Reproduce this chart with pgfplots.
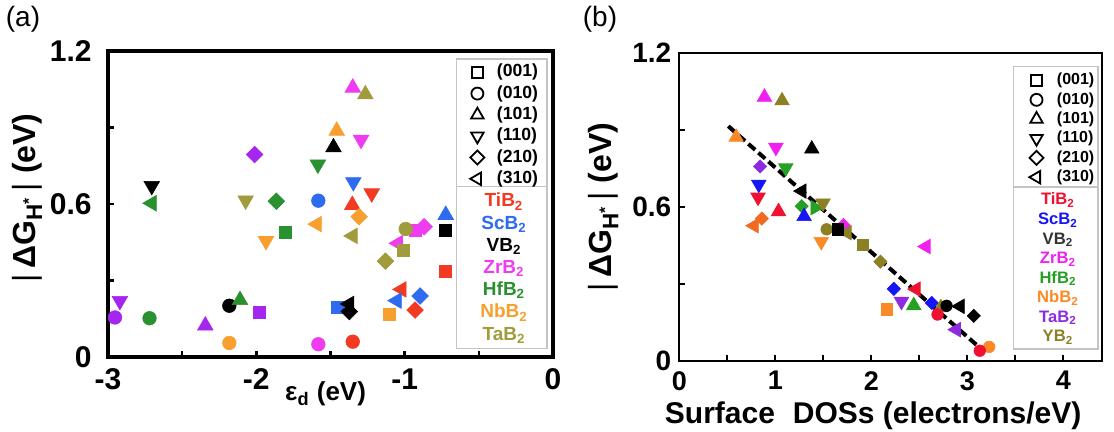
\documentclass[border=0pt]{standalone}
\usepackage{fontspec}
\setmainfont{Liberation Sans}
\usepackage{pgfplots}
\pgfplotsset{compat=1.18}

% ---- plot marks (filled; legend keys reuse them with a white fill) ----
\pgfdeclareplotmark{sqf}{%
  \pgfpathrectangle{\pgfqpoint{-\pgfplotmarksize}{-\pgfplotmarksize}}{\pgfqpoint{2\pgfplotmarksize}{2\pgfplotmarksize}}%
  \pgfusepathqfillstroke}
\pgfdeclareplotmark{utri}{%
  \pgfpathmoveto{\pgfqpoint{0pt}{\pgfplotmarksize}}%
  \pgfpathlineto{\pgfqpoint{0.866\pgfplotmarksize}{-0.5\pgfplotmarksize}}%
  \pgfpathlineto{\pgfqpoint{-0.866\pgfplotmarksize}{-0.5\pgfplotmarksize}}%
  \pgfpathclose\pgfusepathqfillstroke}
\pgfdeclareplotmark{dtri}{%
  \pgfpathmoveto{\pgfqpoint{0pt}{-\pgfplotmarksize}}%
  \pgfpathlineto{\pgfqpoint{0.866\pgfplotmarksize}{0.5\pgfplotmarksize}}%
  \pgfpathlineto{\pgfqpoint{-0.866\pgfplotmarksize}{0.5\pgfplotmarksize}}%
  \pgfpathclose\pgfusepathqfillstroke}
\pgfdeclareplotmark{ltri}{%
  \pgfpathmoveto{\pgfqpoint{-\pgfplotmarksize}{0pt}}%
  \pgfpathlineto{\pgfqpoint{0.5\pgfplotmarksize}{0.866\pgfplotmarksize}}%
  \pgfpathlineto{\pgfqpoint{0.5\pgfplotmarksize}{-0.866\pgfplotmarksize}}%
  \pgfpathclose\pgfusepathqfillstroke}
\pgfdeclareplotmark{rtri}{%
  \pgfpathmoveto{\pgfqpoint{\pgfplotmarksize}{0pt}}%
  \pgfpathlineto{\pgfqpoint{-0.5\pgfplotmarksize}{0.866\pgfplotmarksize}}%
  \pgfpathlineto{\pgfqpoint{-0.5\pgfplotmarksize}{-0.866\pgfplotmarksize}}%
  \pgfpathclose\pgfusepathqfillstroke}
\pgfdeclareplotmark{dia}{%
  \pgfpathmoveto{\pgfqpoint{0pt}{\pgfplotmarksize}}%
  \pgfpathlineto{\pgfqpoint{\pgfplotmarksize}{0pt}}%
  \pgfpathlineto{\pgfqpoint{0pt}{-\pgfplotmarksize}}%
  \pgfpathlineto{\pgfqpoint{-\pgfplotmarksize}{0pt}}%
  \pgfpathclose\pgfusepathqfillstroke}

% ---- colours ----
\definecolor{tiA}{HTML}{F23A22}
\definecolor{scA}{HTML}{2F6BEF}
\definecolor{zrA}{HTML}{F03CF0}
\definecolor{hfA}{HTML}{2A9130}
\definecolor{nbA}{HTML}{F7A030}
\definecolor{taA}{HTML}{A09C3C}
\definecolor{puA}{HTML}{A526EF}
\definecolor{tiB}{HTML}{F01030}
\definecolor{scB}{HTML}{1515F5}
\definecolor{vbB}{HTML}{333333}
\definecolor{zrB}{HTML}{F020F0}
\definecolor{hfB}{HTML}{25A025}
\definecolor{nbB}{HTML}{FA8A28}
\definecolor{nbBr}{HTML}{F06A20}
\definecolor{taB}{HTML}{8E2BE0}
\definecolor{ybB}{HTML}{8C8025}
\definecolor{legline}{HTML}{C4C4C4}

% facet -> marker shape: s=(001) c=(010) u=(101) d=(110) r=(210) l=(310) t=right triangle
\pgfplotsset{
  facetsA/.style={forget plot, only marks, scatter, scatter src=explicit symbolic,
    scatter/classes={
      s={mark=sqf,  mark size=3.0pt,  draw=#1, fill=#1, line width=0.3pt},
      c={mark=*,    mark size=3.4pt,  draw=#1, fill=#1, line width=0.3pt},
      u={mark=utri, mark size=4.5pt,  draw=#1, fill=#1, line width=0.3pt},
      d={mark=dtri, mark size=4.5pt,  draw=#1, fill=#1, line width=0.3pt},
      l={mark=ltri, mark size=4.5pt,  draw=#1, fill=#1, line width=0.3pt},
      t={mark=rtri, mark size=4.5pt,  draw=#1, fill=#1, line width=0.3pt},
      r={mark=dia,  mark size=4.15pt, draw=#1, fill=#1, line width=0.3pt}}},
  facetsB/.style={forget plot, only marks, scatter, scatter src=explicit symbolic,
    scatter/classes={
      s={mark=sqf,  mark size=2.9pt,  draw=#1, fill=#1, line width=0.3pt},
      c={mark=*,    mark size=2.9pt,  draw=#1, fill=#1, line width=0.3pt},
      u={mark=utri, mark size=4.2pt,  draw=#1, fill=#1, line width=0.3pt},
      d={mark=dtri, mark size=4.2pt,  draw=#1, fill=#1, line width=0.3pt},
      l={mark=ltri, mark size=4.2pt,  draw=#1, fill=#1, line width=0.3pt},
      t={mark=rtri, mark size=4.2pt,  draw=#1, fill=#1, line width=0.3pt},
      r={mark=dia,  mark size=3.3pt,  draw=#1, fill=#1, line width=0.3pt}}},
  legmark/.style={only marks, black, mark options={draw=black, fill=white, line width=0.9pt}},
}

\newcommand{\dG}{\textnormal{|}\,\textbf{ΔG\textsubscript{H\textsuperscript{*}}}\,\textnormal{|}\ \textbf{(eV)}}

\begin{document}
\begin{tikzpicture}
\useasboundingbox (0,0) rectangle (557pt,216pt);

\node[font=\fontsize{14}{14}\selectfont, anchor=center] at (11.5pt,206.5pt) {(a)};
\node[font=\fontsize{14}{14}\selectfont, anchor=center] at (300pt,206.5pt) {(b)};

% ================= (a) =================
\begin{axis}[
  at={(54pt,37.5pt)}, anchor=south west,
  scale only axis, width=222.5pt, height=153pt,
  xmin=-3, xmax=0, ymin=0, ymax=1.2,
  xtick={-3,-2,-1,0}, xticklabels={{-3},{-2},{-1},{0}},
  ytick={0,0.6,1.2}, yticklabels={0,0.6,1.2},
  minor xtick={-2.5,-1.5,-0.5}, minor ytick={0.3,0.9},
  tick align=inside, xtick pos=left, ytick pos=left,
  major tick length=3pt, minor tick length=3pt,
  every tick/.style={black, line width=1.3pt},
  axis line style={line width=1.6pt},
  ticklabel style={font=\bfseries\fontsize{15}{15}\selectfont},
  xticklabel style={inner sep=0pt, anchor=north, yshift=-5.5pt},
  yticklabel style={inner sep=0pt, anchor=east, xshift=-8pt},
  xlabel={\textbf{ε\textsubscript{d} (eV)}},
  xlabel style={at={(axis description cs:0.489,-0.12)}, anchor=center, font=\fontsize{13}{13}\selectfont},
  ylabel={\dG},
  ylabel style={at={(axis description cs:-0.182,0.52)}, anchor=center, font=\fontsize{16}{16}\selectfont},
  clip=false,
  legend image code/.code={\draw[#1] plot coordinates {(0pt,0pt)};},
  legend style={at={(rel axis cs:0.813,0.9595)}, anchor=north west, draw=none, fill=none,
    inner sep=0pt, row sep=2.15pt, column sep=6.3pt,
    font=\bfseries\fontsize{8.8}{8.8}\selectfont,
    nodes={inner sep=0pt, text height=6.6pt, text depth=1.9pt}},
  legend cell align=left,
]
\addlegendimage{legmark, mark=sqf,  mark size=2.8pt}\addlegendentry{(001)}
\addlegendimage{legmark, mark=*,    mark size=3.0pt}\addlegendentry{(010)}
\addlegendimage{legmark, mark=utri, mark size=3.6pt}\addlegendentry{(101)}
\addlegendimage{legmark, mark=dtri, mark size=3.6pt}\addlegendentry{(110)}
\addlegendimage{legmark, mark=dia,  mark size=3.5pt}\addlegendentry{(210)}
\addlegendimage{legmark, mark=ltri, mark size=3.6pt}\addlegendentry{(310)}

% TiB2
\addplot[facetsA=tiA] table[meta=f] {
x y f
-1.353 0.596 u
-1.222 0.642 d
-0.723 0.337 s
-1.020 0.265 l
-0.930 0.184 r
-1.350 0.060 c
};
% ScB2
\addplot[facetsA=scA] table[meta=f] {
x y f
-0.723 0.557 u
-1.346 0.686 d
-1.582 0.613 c
-0.896 0.239 r
-1.053 0.221 l
-1.451 0.193 s
};
% VB2
\addplot[facetsA=black] table[meta=f] {
x y f
-2.705 0.671 d
-1.480 0.822 u
-2.182 0.201 c
-0.723 0.498 s
-1.373 0.208 l
-1.373 0.178 r
};
% ZrB2
\addplot[facetsA=zrA] table[meta=f] {
x y f
-1.350 1.056 u
-1.294 0.852 d
-1.582 0.050 c
-0.925 0.497 s
-0.869 0.511 r
-1.045 0.446 l
};
% HfB2
\addplot[facetsA=hfA] table[meta=f] {
x y f
-2.705 0.603 l
-2.720 0.152 c
-2.110 0.223 u
-1.865 0.611 r
-1.803 0.488 s
-1.585 0.755 d
};
% NbB2
\addplot[facetsA=nbA] table[meta=f] {
x y f
-2.182 0.055 c
-1.935 0.455 d
-1.458 0.887 u
-1.592 0.521 l
-1.307 0.550 r
-1.102 0.167 s
};
% TaB2
\addplot[facetsA=taA] table[meta=f] {
x y f
-2.072 0.614 d
-1.265 1.030 u
-1.350 0.475 l
-0.993 0.502 c
-1.009 0.418 s
-1.129 0.376 r
};
% purple set
\addplot[facetsA=puA] table[meta=f] {
x y f
-2.920 0.220 d
-2.953 0.155 c
-2.344 0.123 u
-1.977 0.177 s
-2.012 0.794 r
};

% legend frame with its divider
\draw[legline, line width=0.6pt] (rel axis cs:0.784,0.029) rectangle (rel axis cs:0.9865,0.974);
\draw[legline, line width=0.6pt] (rel axis cs:0.784,0.556) -- (rel axis cs:0.9865,0.556);
\node[font=\bfseries\fontsize{9.5}{11.1}\selectfont, align=center, inner sep=0pt, anchor=center]
  at (rel axis cs:0.89,0.29) {%
  \textcolor{tiA}{TiB\textsubscript{2}}\\
  \textcolor{scA}{ScB\textsubscript{2}}\\
  \textcolor{black}{VB\textsubscript{2}}\\
  \textcolor{zrA}{ZrB\textsubscript{2}}\\
  \textcolor{hfA}{HfB\textsubscript{2}}\\
  \textcolor{nbA}{NbB\textsubscript{2}}\\
  \textcolor{taA}{TaB\textsubscript{2}}};
\end{axis}

% ================= (b) =================
\begin{axis}[
  at={(339.65pt,35.5pt)}, anchor=south west,
  scale only axis, width=211.2pt, height=154pt,
  xmin=0, xmax=4.4, ymin=0, ymax=1.2,
  xtick={0,1,2,3,4}, xticklabels={0,1,2,3,4},
  ytick={0,0.6,1.2}, yticklabels={0,0.6,1.2},
  minor xtick={0.5,1.5,2.5,3.5}, minor ytick={0.3,0.9},
  tick align=inside, xtick pos=left, ytick pos=left,
  major tick length=3pt, minor tick length=3pt,
  every tick/.style={black, line width=1pt},
  axis line style={line width=1pt},
  ticklabel style={font=\bfseries\fontsize{14}{14}\selectfont},
  xticklabel style={inner sep=0pt, anchor=north, yshift=-5pt, font=\bfseries\fontsize{13.5}{13.5}\selectfont},
  yticklabel style={inner sep=0pt, anchor=east, xshift=-3.8pt},
  xlabel={\textbf{Surface\hspace{0.6em}DOSs (electrons/eV)}},
  xlabel style={at={(axis description cs:0.459,-0.178)}, anchor=center, font=\fontsize{15}{15}\selectfont},
  ylabel={\dG},
  ylabel style={at={(axis description cs:-0.18,0.5)}, anchor=center, font=\fontsize{16}{16}\selectfont},
  clip=false,
  legend image code/.code={\draw[#1] plot coordinates {(0pt,0pt)};},
  legend style={at={(rel axis cs:0.8277,0.937)}, anchor=north west, draw=none, fill=none,
    inner sep=0pt, row sep=1.97pt, column sep=6.7pt,
    font=\bfseries\fontsize{8}{8}\selectfont,
    nodes={inner sep=0pt, text height=6pt, text depth=1.7pt}},
  legend cell align=left,
]
\addlegendimage{legmark, mark=sqf,  mark size=2.8pt}\addlegendentry{(001)}
\addlegendimage{legmark, mark=*,    mark size=3.0pt}\addlegendentry{(010)}
\addlegendimage{legmark, mark=utri, mark size=3.6pt}\addlegendentry{(101)}
\addlegendimage{legmark, mark=dtri, mark size=3.6pt}\addlegendentry{(110)}
\addlegendimage{legmark, mark=dia,  mark size=3.5pt}\addlegendentry{(210)}
\addlegendimage{legmark, mark=ltri, mark size=3.6pt}\addlegendentry{(310)}

% TaB2
\addplot[facetsB=taB] table[meta=f] {
x y f
0.842 0.758 r
2.314 0.232 d
2.885 0.122 l
};
% NbB2
\addplot[facetsB=nbB] table[meta=f] {
x y f
0.592 0.872 u
1.479 0.465 d
2.160 0.202 s
3.228 0.055 c
};
\addplot[facetsB=nbBr] table[meta=f] {
x y f
0.859 0.555 r
0.780 0.527 l
};
% HfB2
\addplot[facetsB=hfB] table[meta=f] {
x y f
1.109 0.752 d
1.275 0.603 r
1.414 0.597 t
2.442 0.216 u
};
% ZrB2
\addplot[facetsB=zrB] table[meta=f] {
x y f
0.887 1.028 u
1.006 0.832 d
1.711 0.530 r
2.570 0.446 l
};
% ScB2
\addplot[facetsB=scB] table[meta=f] {
x y f
0.828 0.688 d
1.300 0.563 u
2.235 0.281 r
2.630 0.226 r
};
% YB2
\addplot[facetsB=ybB] table[meta=f] {
x y f
1.070 1.014 u
1.497 0.615 d
1.535 0.513 c
1.747 0.500 l
1.912 0.452 s
2.095 0.387 r
2.725 0.208 u
};
% VB2
\addplot[facetsB=black] table[meta=f] {
x y f
1.380 0.826 u
1.278 0.662 l
1.653 0.512 s
2.784 0.215 c
2.925 0.213 l
3.067 0.176 r
};
% TiB2
\addplot[facetsB=tiB] table[meta=f] {
x y f
0.820 0.638 d
1.034 0.582 u
2.466 0.280 l
2.690 0.181 c
3.130 0.040 c
};

% linear fit
\addplot[forget plot, black, line width=2pt, dash pattern=on 4.5pt off 2.2pt] coordinates {(0.51,0.915) (3.15,0.045)};

\draw[legline, line width=0.6pt] (rel axis cs:0.792,0.039) rectangle (rel axis cs:0.991,0.955);
\draw[legline, line width=0.6pt] (rel axis cs:0.792,0.565) -- (rel axis cs:0.991,0.565);
\node[font=\bfseries\fontsize{8.3}{9.76}\selectfont, align=center, inner sep=0pt, anchor=center]
  at (rel axis cs:0.8965,0.30) {%
  \textcolor{tiB}{TiB\textsubscript{2}}\\
  \textcolor{scB}{ScB\textsubscript{2}}\\
  \textcolor{vbB}{VB\textsubscript{2}}\\
  \textcolor{zrB}{ZrB\textsubscript{2}}\\
  \textcolor{hfB}{HfB\textsubscript{2}}\\
  \textcolor{nbB}{NbB\textsubscript{2}}\\
  \textcolor{taB}{TaB\textsubscript{2}}\\
  \textcolor{ybB}{YB\textsubscript{2}}};
\end{axis}
\end{tikzpicture}
\end{document}
